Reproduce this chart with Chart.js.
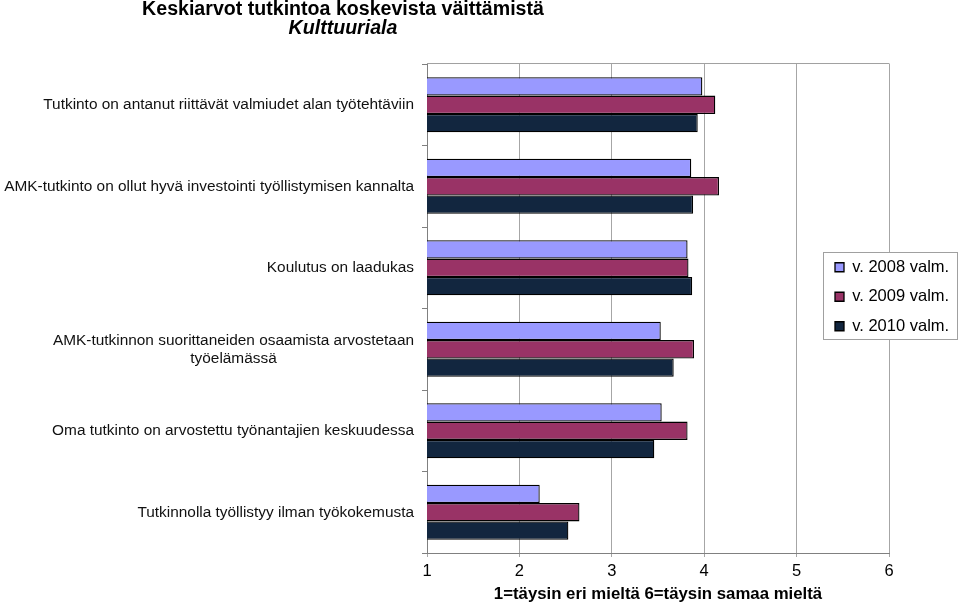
<!DOCTYPE html>
<html><head><meta charset="utf-8">
<script src="https://cdn.jsdelivr.net/npm/chart.js@4"></script>
<style>html,body{margin:0;padding:0;background:#fff;} canvas{display:block;}</style>
</head><body>
<canvas id="c" width="960" height="604"></canvas>
<script>
const titleText = 'Keskiarvot tutkintoa koskevista väittämistä';
const subtitleText = 'Kulttuuriala';
const xTitle = '1=täysin eri mieltä 6=täysin samaa mieltä';
const categories = [
  'Tutkinto on antanut riittävät valmiudet alan työtehtäviin',
  'AMK-tutkinto on ollut hyvä investointi työllistymisen kannalta',
  'Koulutus on laadukas',
  ['AMK-tutkinnon suorittaneiden osaamista arvostetaan', 'työelämässä'],
  'Oma tutkinto on arvostettu työnantajien keskuudessa',
  'Tutkinnolla työllistyy ilman työkokemusta'
];
const seriesNames = ['v. 2008 valm.', 'v. 2009 valm.', 'v. 2010 valm.'];
const v2008 = [3.98, 3.86, 3.82, 3.53, 3.54, 2.22];
const v2009 = [4.12, 4.16, 3.83, 3.89, 3.82, 2.65];
const v2010 = [3.93, 3.88, 3.87, 3.67, 3.46, 2.53];
const xTicks = [1, 2, 3, 4, 5, 6];

const FONT = '"Liberation Sans", Arial, sans-serif';
Chart.defaults.font.family = FONT;
Chart.defaults.color = '#000';

const layoutPlugin = {
  id: 'layoutTweaks',
  afterInit(chart) {
    const lg = chart.legend;
    if (lg) {
      const origFit = lg.fit.bind(lg);
      lg.fit = function () { origFit(); this.width = 0; };
      const origDraw = lg.draw.bind(lg);
      lg.draw = function (area) {
        const ctx = chart.ctx;
        ctx.save();
        ctx.fillStyle = '#fff';
        ctx.strokeStyle = '#a0a0a0';
        ctx.lineWidth = 1;
        ctx.fillRect(823.5, 252.5, 134, 87);
        ctx.strokeRect(823.5, 252.5, 134, 87);
        ctx.restore();
        origDraw(area);
      };
    }
  },
  afterLayout(chart) {
    const lg = chart.legend;
    if (lg) {
      lg.left = 822; lg.right = 960; lg.top = 246; lg.bottom = 400;
      lg.width = lg.right - lg.left; lg.height = lg.bottom - lg.top;
    }
    chart.boxes.forEach(b => {
      if (b.options && (b.options.text === titleText || b.options.text === subtitleText)) {
        b.left = 43; b.right = 643; b.width = 600;
      }
      if (b.options && b.options.title && b.options.title.text === xTitle) {
        // keep the axis itself; the title centre follows the scale
      }
    });
  },
  beforeDatasetsDraw(chart) {
    const {ctx, chartArea} = chart;
    ctx.save();
    ctx.strokeStyle = '#a0a0a0';
    ctx.lineWidth = 1;
    ctx.beginPath();
    ctx.moveTo(chartArea.left, chartArea.top - 0.5);
    ctx.lineTo(chartArea.right + 0.5, chartArea.top - 0.5);
    ctx.stroke();
    ctx.restore();
  },
  afterDraw(chart) {
    const ys = chart.scales.y;
    const ctx = chart.ctx;
    ctx.save();
    ctx.font = '15.4px ' + FONT;
    ctx.fillStyle = '#111';
    ctx.textBaseline = 'middle';
    const xr = ys.right - 13;
    const lh = 18;
    categories.forEach((lab, i) => {
      const y = ys.getPixelForValue(i);
      const lines = Array.isArray(lab) ? lab : [lab];
      const maxW = Math.max(...lines.map(l => ctx.measureText(l).width));
      lines.forEach((l, j) => {
        const ly = y + (j - (lines.length - 1) / 2) * lh;
        if (lines.length > 1) { ctx.textAlign = 'center'; ctx.fillText(l, xr - maxW / 2, ly); }
        else { ctx.textAlign = 'right'; ctx.fillText(l, xr, ly); }
      });
    });
    ctx.restore();
  }
};

const colors = ['#9999ff', '#993366', '#12263f'];
const values = [v2008, v2009, v2010];

new Chart(document.getElementById('c'), {
  type: 'bar',
  data: {
    labels: categories,
    datasets: seriesNames.map((n, i) => ({
      label: n,
      data: values[i],
      backgroundColor: colors[i],
      borderColor: '#000',
      borderWidth: 1.3,
      barPercentage: 1,
      categoryPercentage: 0.675
    }))
  },
  options: {
    indexAxis: 'y',
    responsive: false,
    animation: false,
    devicePixelRatio: 1,
    layout: { padding: { left: 0, right: 71, top: 0, bottom: 0 } },
    scales: {
      x: {
        type: 'linear', min: 1, max: 6,
        afterBuildTicks(s) { s.ticks = xTicks.map(v => ({ value: v })); },
        ticks: { stepSize: 1, font: { size: 16.5 }, color: '#000', padding: 5 },
        grid: { color: '#a6a6a6', tickLength: 4, drawTicks: true },
        border: { color: '#808080' },
        title: { display: true, text: xTitle, color: '#000', font: { size: 16.8, weight: 'bold' }, padding: { top: 0, bottom: 0 } },
        afterFit(s) { s.height = 51; }
      },
      y: {
        type: 'category', offset: true,
        ticks: { display: false },
        grid: { offset: true, drawOnChartArea: false, drawTicks: true, tickLength: 5, color: '#808080' },
        border: { color: '#808080' },
        afterFit(s) { s.width = 427; }
      }
    },
    plugins: {
      title: { display: true, text: titleText, color: '#000', font: { size: 19.6, weight: 'bold', lineHeight: 0.95 }, padding: { top: 0, bottom: 0 } },
      subtitle: { display: true, text: subtitleText, color: '#000', font: { size: 19.6, weight: 'bold', style: 'italic', lineHeight: 1 }, padding: { top: 0.6, bottom: 25.2 } },
      legend: {
        display: true, position: 'right', align: 'start',
        labels: { boxWidth: 9, boxHeight: 9, font: { size: 16.5 }, color: '#000', padding: 13 }
      },
      tooltip: { enabled: false }
    }
  },
  plugins: [layoutPlugin]
});
</script></body></html>
